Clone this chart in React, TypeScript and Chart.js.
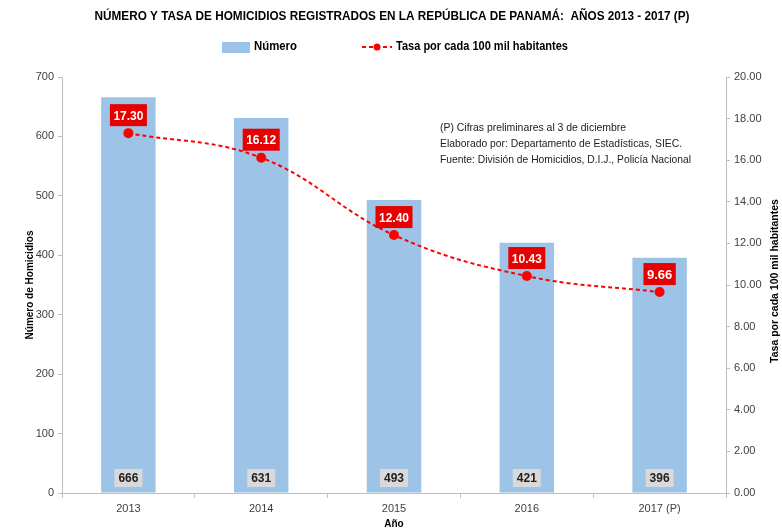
import React, { useEffect, useRef } from 'react';
import { Chart, registerables } from 'chart.js';

Chart.register(...registerables);

const categories = ['2013', '2014', '2015', '2016', '2017 (P)'];
const homicidios = [666, 631, 493, 421, 396];
const tasa = [17.3, 16.12, 12.4, 10.43, 9.66];

const titleText = 'NÚMERO Y TASA DE HOMICIDIOS REGISTRADOS EN LA REPÚBLICA DE PANAMÁ:  AÑOS 2013 - 2017 (P)';
const legendBar = 'Número';
const legendLine = 'Tasa por cada 100 mil habitantes';
const leftTitle = 'Número de Homicidios';
const rightTitle = 'Tasa por cada 100 mil habitantes';
const xTitle = 'Año';
const notes = [
  '(P) Cifras preliminares al 3 de diciembre',
  'Elaborado por: Departamento de Estadísticas, SIEC.',
  'Fuente: División de Homicidios, D.I.J., Policía Nacional',
];
const noteWidths = [186, 242, 251];

const FONT = '"Liberation Sans", Arial, sans-serif';
const BAR_COLOR = '#9DC3E6';
const RED = '#FF0000';

const overlay = {
  id: 'overlay',
  afterDatasetsDraw(chart: any) {
    const ctx = chart.ctx as CanvasRenderingContext2D;
    const barMeta = chart.getDatasetMeta(1);
    const lineMeta = chart.getDatasetMeta(0);
    ctx.save();
    // bar labels
    ctx.font = `bold 12px ${FONT}`;
    ctx.textAlign = 'center';
    ctx.textBaseline = 'middle';
    barMeta.data.forEach((el: any, i: number) => {
      const y = chart.scales.y.getPixelForValue(0) - 15;
      ctx.fillStyle = '#D9D9D9';
      ctx.fillRect(el.x - 14, y - 9, 28, 18);
      ctx.fillStyle = '#222';
      ctx.fillText(String(homicidios[i]), el.x, y + 1, 24);
    });
    // line labels
    ctx.font = `bold 13px ${FONT}`;
    lineMeta.data.forEach((el: any, i: number) => {
      const txt = tasa[i].toFixed(2);
      const tw = Math.min(ctx.measureText(txt).width, 30);
      const w = tw + 7;
      const cy = el.y - 18;
      ctx.fillStyle = '#E60000';
      ctx.fillRect(el.x - w / 2, cy - 11, w, 22);
      ctx.fillStyle = '#FFFFFF';
      ctx.fillText(txt, el.x, cy + 1, 30);
    });
    ctx.restore();
  },
  afterDraw(chart: any) {
    const ctx = chart.ctx as CanvasRenderingContext2D;
    const area = chart.chartArea;
    ctx.save();
    ctx.fillStyle = '#000';
    ctx.textBaseline = 'middle';
    // title
    ctx.textAlign = 'center';
    ctx.font = `bold 13px ${FONT}`;
    ctx.fillText(titleText, 392, 16, 595);
    // legend
    ctx.fillStyle = BAR_COLOR;
    ctx.fillRect(222, 42, 28, 11);
    ctx.fillStyle = '#000';
    ctx.textAlign = 'left';
    ctx.font = `bold 12px ${FONT}`;
    ctx.fillText(legendBar, 254, 47, 43);
    ctx.strokeStyle = RED;
    ctx.lineWidth = 2;
    ctx.setLineDash([4, 3]);
    ctx.beginPath();
    ctx.moveTo(362, 47);
    ctx.lineTo(392, 47);
    ctx.stroke();
    ctx.setLineDash([]);
    ctx.fillStyle = RED;
    ctx.beginPath();
    ctx.arc(377, 47, 3.5, 0, Math.PI * 2);
    ctx.fill();
    ctx.fillStyle = '#000';
    ctx.fillText(legendLine, 396, 47, 172);
    // notes
    ctx.font = `11px ${FONT}`;
    ctx.fillStyle = '#222';
    notes.forEach((n, i) => ctx.fillText(n, 440, 128 + i * 16, noteWidths[i]));
    // axis titles
    ctx.font = `bold 10px ${FONT}`;
    ctx.fillStyle = '#000';
    ctx.textAlign = 'center';
    const cy = (area.top + area.bottom) / 2;
    ctx.save();
    ctx.translate(30, cy);
    ctx.rotate(-Math.PI / 2);
    ctx.fillText(leftTitle, 0, 0, 110);
    ctx.restore();
    ctx.save();
    ctx.translate(775, cy - 4);
    ctx.rotate(-Math.PI / 2);
    ctx.font = `bold 10.5px ${FONT}`;
    ctx.fillText(rightTitle, 0, 0, 170);
    ctx.restore();
    ctx.font = `bold 10px ${FONT}`;
    ctx.fillText(xTitle, (area.left + area.right) / 2, 524);
    ctx.restore();
  },
};

export default function App() {
  const ref = useRef<HTMLCanvasElement | null>(null);
  useEffect(() => {
    if (!ref.current) return;
    const chart = new Chart(ref.current, {
      type: 'bar',
      data: {
        labels: categories,
        datasets: [
          {
            type: 'line',
            label: legendLine,
            data: tasa,
            yAxisID: 'y1',
            borderColor: RED,
            backgroundColor: RED,
            borderWidth: 2,
            borderDash: [4, 3],
            pointRadius: 4,
            pointBackgroundColor: RED,
            pointBorderColor: RED,
            tension: 0.4,
            order: 0,
          } as any,
          {
            type: 'bar',
            label: legendBar,
            data: homicidios,
            yAxisID: 'y',
            backgroundColor: BAR_COLOR,
            barPercentage: 0.41,
            categoryPercentage: 1,
            order: 1,
          },
        ],
      },
      options: {
        animation: false,
        responsive: true,
        maintainAspectRatio: false,
        layout: { padding: { top: 77, left: 0, right: 0, bottom: 0 } },
        plugins: { legend: { display: false }, title: { display: false }, tooltip: { enabled: false } },
        scales: {
          x: {
            afterFit: (s: any) => { s.height = 37; },
            border: { color: '#BFBFBF' },
            grid: { display: true, drawOnChartArea: false, offset: true, tickLength: 5, color: '#BFBFBF' },
            ticks: { color: '#404040', font: { family: FONT, size: 11 }, padding: 4, maxRotation: 0 },
          },
          y: {
            position: 'left',
            min: 0,
            max: 700,
            afterFit: (s: any) => { s.width = 62; },
            border: { color: '#BFBFBF' },
            grid: { display: true, drawOnChartArea: false, tickLength: 4, color: '#BFBFBF' },
            ticks: { stepSize: 100, color: '#404040', font: { family: FONT, size: 11 }, padding: 4 },
          },
          y1: {
            position: 'right',
            min: 0,
            max: 20,
            afterFit: (s: any) => { s.width = 56; },
            border: { color: '#BFBFBF' },
            grid: { display: true, drawOnChartArea: false, tickLength: 4, color: '#BFBFBF' },
            ticks: {
              stepSize: 2,
              color: '#404040',
              font: { family: FONT, size: 11 },
              padding: 4,
              callback: (v: any) => Number(v).toFixed(2),
            },
          },
        },
      },
      plugins: [overlay],
    });
    return () => chart.destroy();
  }, []);
  return (
    <div style={{ position: 'absolute', left: 0, top: 0, width: 782, height: 530, background: '#fff' }}>
      <canvas ref={ref} />
    </div>
  );
}
